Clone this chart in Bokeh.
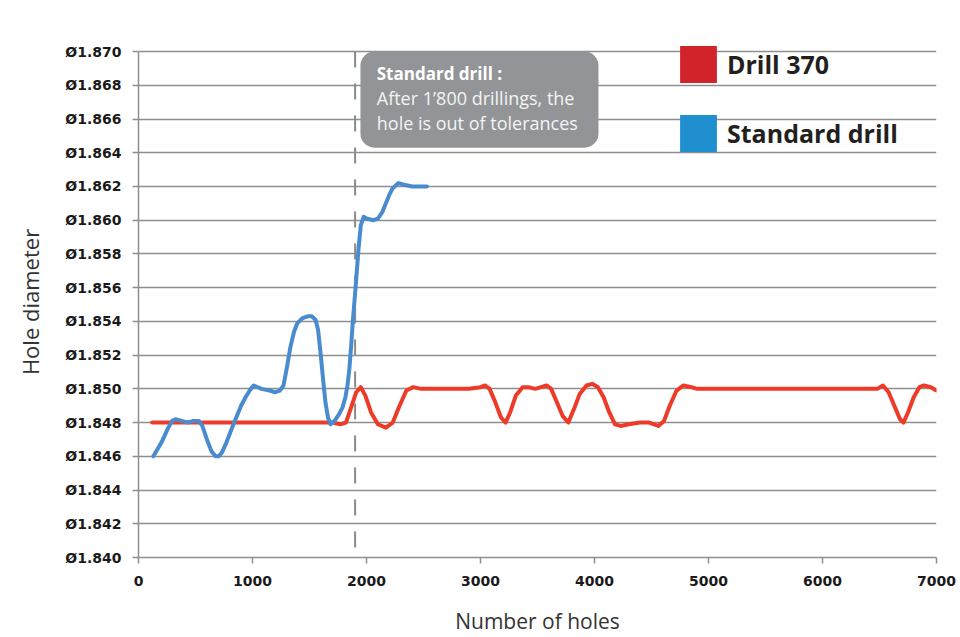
from bokeh.plotting import figure
from bokeh.models import (Range1d, FixedTicker, CustomJSTickFormatter,
                          BoxAnnotation, Label, Legend, LegendItem)
from bokeh.embed import file_html
from bokeh.resources import INLINE

NaN = float("nan")

# ---------------- data ----------------
std_x = [130, 200, 254, 295, 325, 380, 430, 480, 530, 560, 600, 640, 675, 702, 730, 770,
         833, 900, 939, 975, 1010, 1080, 1150, 1200, 1240, 1272, 1300, 1333, 1365, 1394,
         1440, 1482, 1520, 1553, 1575, 1596, 1620, 1640, 1662, 1684, 1720, 1760, 1790,
         1815, 1833, 1850, 1865, 1880, 1904, 1930, 1950, 1975, 2000, 2060, 2100, 2140,
         2170, 2200, 2230, 2280, 2330, 2400, 2530]
std_y = [1.8460, 1.8468, 1.8476, 1.8481, 1.8482, 1.8481, 1.8480, 1.8481, 1.8481, 1.8478,
         1.8470, 1.8463, 1.8460, 1.8460, 1.8462, 1.8468, 1.8479, 1.8490, 1.8495, 1.8499,
         1.8502, 1.8500, 1.8499, 1.8498, 1.8499, 1.8502, 1.8512, 1.8525, 1.8534, 1.8539,
         1.8542, 1.8543, 1.8543, 1.8541, 1.8535, 1.8522, 1.8505, 1.8492, 1.8483, 1.8479,
         1.8481, 1.8485, 1.8489, 1.8495, 1.8502, 1.8512, 1.8525, 1.8540, 1.8560, 1.8583,
         1.8597, 1.8602, 1.8601, 1.8600, 1.8601, 1.8605, 1.8610, 1.8615, 1.8619, 1.8622,
         1.8621, 1.8620, 1.8620]

d370_x = [120, 1700, 1770, 1820, 1860, 1910, 1950, 1990, 2040, 2100, 2170, 2230, 2290,
          2350, 2410, 2480, 2600, 2900, 3000, 3040, 3080, 3130, 3180, 3220, 3260, 3310,
          3370, 3420, 3480, 3530, 3580, 3620, 3670, 3720, 3770, 3820, 3870, 3930, 3980,
          4030, 4080, 4130, 4180, 4230, 4300, 4400, 4480, 4560, 4610, 4660, 4720, 4780,
          4850, 4900, 6000, 6480, 6530, 6580, 6630, 6680, 6710, 6750, 6800, 6850, 6890,
          6950, 7000]
d370_y = [1.8480, 1.8480, 1.8479, 1.8480, 1.8488, 1.8498, 1.8501, 1.8496, 1.8486, 1.8479,
          1.8477, 1.8480, 1.8490, 1.8499, 1.8501, 1.8500, 1.8500, 1.8500, 1.8501, 1.8502,
          1.8500, 1.8492, 1.8483, 1.8480, 1.8486, 1.8496, 1.8501, 1.8501, 1.8500, 1.8501,
          1.8502, 1.8500, 1.8492, 1.8484, 1.8480, 1.8488, 1.8497, 1.8502, 1.8503, 1.8501,
          1.8495, 1.8486, 1.8479, 1.8478, 1.8479, 1.8480, 1.8480, 1.8478, 1.8481, 1.8490,
          1.8499, 1.8502, 1.8501, 1.8500, 1.8500, 1.8500, 1.8502, 1.8498, 1.8490, 1.8482,
          1.8480, 1.8486, 1.8495, 1.8501, 1.8502, 1.8501, 1.8499]

y_ticks = [1.840, 1.842, 1.844, 1.846, 1.848, 1.850, 1.852, 1.854, 1.856, 1.858,
           1.860, 1.862, 1.864, 1.866, 1.868, 1.870]
x_ticks = [0, 1000, 2000, 3000, 4000, 5000, 6000, 7000]
y_min, y_max = 1.840, 1.870
tolerance_limit = 1900

series_names = ["Drill 370", "Standard drill"]
x_title = "Number of holes"
y_title = "Hole diameter"
note_title = "Standard drill :"
note_lines = ["After 1\u2019800 drillings, the", "hole is out of tolerances"]

RED = "#ee3a28"
BLUE = "#4a8bd0"
RED_KEY = "#d2232a"
BLUE_KEY = "#1f8fcf"
GRID = "#8e8e8e"

# ---------------- figure ----------------
# a little headroom above the top gridline so the legend keys are not clipped
p = figure(width=960, height=637, output_backend="svg", toolbar_location=None,
           x_range=Range1d(0, 7000), y_range=Range1d(y_min, 1.8703),
           min_border_left=138, min_border_right=24, min_border_top=46,
           min_border_bottom=75)
p.outline_line_color = None
p.background_fill_color = "white"
p.border_fill_color = "white"

# axes
for ax in (p.xaxis[0], p.yaxis[0]):
    ax.axis_line_color = GRID
    ax.axis_line_width = 1.5
    ax.major_tick_line_color = GRID
    ax.major_tick_line_width = 1.5
    ax.major_tick_out = 6
    ax.major_tick_in = 0
    ax.minor_tick_line_color = None
    ax.major_label_text_font = "DejaVu Sans"
    ax.major_label_text_font_style = "bold"
    ax.major_label_text_font_size = "14px"
    ax.major_label_text_color = "#1a1a1a"
    ax.axis_label_text_font = "Open Sans"
    ax.axis_label_text_font_style = "normal"
    ax.axis_label_text_color = "#333333"

p.yaxis.bounds = (y_min, y_max)
p.xaxis.ticker = FixedTicker(ticks=x_ticks)
p.yaxis.ticker = FixedTicker(ticks=y_ticks)
p.yaxis.formatter = CustomJSTickFormatter(code="return '\u00d8' + tick.toFixed(3);")
p.xaxis.major_label_standoff = 12
p.yaxis.major_label_standoff = 11
p.xaxis.axis_label = x_title
p.xaxis.axis_label_text_font_size = "21px"
p.xaxis.axis_label_standoff = 18
p.yaxis.axis_label = y_title
p.yaxis.axis_label_text_font_size = "22px"
p.yaxis.axis_label_standoff = 17

p.xgrid.grid_line_color = None
p.ygrid.grid_line_color = GRID
p.ygrid.grid_line_width = 1.5

# tolerance marker (dashed vertical line, drawn from the top down)
p.segment(x0=[tolerance_limit], y0=[y_max], x1=[tolerance_limit], y1=[y_min],
          line_color="#8a8a8a", line_width=2, line_dash="16 16")

# series
p.line(d370_x, d370_y, line_color=RED, line_width=4, line_join="round", line_cap="round")
p.line(std_x, std_y, line_color=BLUE, line_width=4, line_join="round", line_cap="round")

# annotation box
p.add_layout(BoxAnnotation(left=1947, right=4035, top=1.8700, bottom=1.8643,
                           fill_color="#929497", fill_alpha=1.0, line_color=None,
                           border_radius=14))
p.add_layout(Label(x=2090, y=1.86871, text=note_title, text_font="Open Sans",
                   text_font_style="bold", text_font_size="17px", text_color="white",
                   text_baseline="middle"))
p.add_layout(Label(x=2090, y=1.86724, text=note_lines[0], text_font="Open Sans",
                   text_font_size="18px", text_color="#f4f4f4", text_baseline="middle"))
p.add_layout(Label(x=2090, y=1.86577, text=note_lines[1], text_font="Open Sans",
                   text_font_size="18px", text_color="#f4f4f4", text_baseline="middle"))

# legend with square keys (glyphs never drawn in the plot: NaN data)
r_key = p.quad(left=[NaN], right=[NaN], top=[NaN], bottom=[NaN],
               fill_color=RED_KEY, line_color=None)
b_key = p.quad(left=[NaN], right=[NaN], top=[NaN], bottom=[NaN],
               fill_color=BLUE_KEY, line_color=None)
legend = Legend(items=[LegendItem(label=series_names[0], renderers=[r_key]),
                       LegendItem(label=series_names[1], renderers=[b_key])],
                location=(537, 401), orientation="vertical",
                glyph_width=46, glyph_height=46, spacing=23, padding=0, margin=0,
                label_standoff=6, label_text_font="Open Sans",
                label_text_font_style="bold", label_text_font_size="25px",
                label_text_color="#231f20", border_line_color=None,
                background_fill_alpha=0)
p.add_layout(legend)

open("out.html", "w").write(file_html(p, INLINE))
